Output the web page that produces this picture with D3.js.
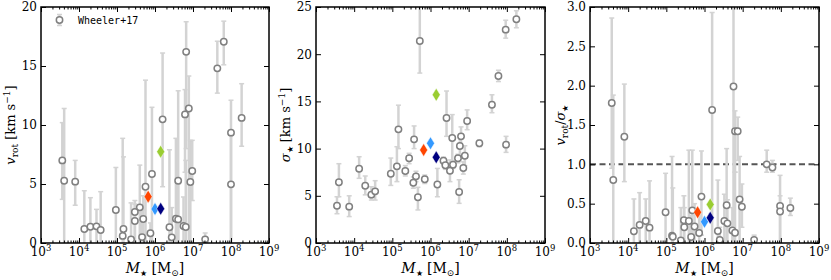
<!DOCTYPE html>
<html>
<head>
<meta charset="utf-8">
<script src="https://cdn.jsdelivr.net/npm/d3@7"></script>
<style>
  body { margin: 0; background: #fff; }
  text { font-family: "DejaVu Serif", serif; }
</style>
</head>
<body>
<div id="chart"></div>
<script>
// --- Wheeler+17 : log10(M*/Msun), value, lower end, upper end of the error bar ---
const vrotMass = [3.56, 3.61, 3.90, 4.14, 4.30, 4.46, 4.57, 4.97, 5.15, 5.17, 5.37, 5.47, 5.47, 5.60, 5.66, 5.69, 5.75, 5.88, 5.92,
                  6.20, 6.38, 6.44, 6.55, 6.61, 6.61, 6.75, 6.81, 6.93, 6.98, 6.79, 6.82, 6.89, 7.32, 7.64, 7.81, 8.00, 8.00, 8.28];
const vrotVal  = [7.0, 5.28, 5.2, 1.19, 1.38, 1.41, 1.1, 2.8, 0.6, 1.19, 0.3, 2.63, 1.86, 3.02, 0.5, 2.03, 4.77, 0.82, 5.85,
                  10.48, 1.33, 0.48, 2.06, 2.0, 5.28, 1.44, 1.36, 5.17, 6.1, 10.9, 16.2, 11.4, 0.31, 14.8, 17.06, 9.35, 4.97, 10.6];
const vrotLo   = [3.7, 0, 3.2, 0, 0, 0, 0, 0, 0, 0, 0, 0, 0, 0, 0, 0, 0, 0, 0,
                  4.77, 0, 0, 0, 0, 0, 0, 0, 0, 3.6, 6.0, 8.0, 0, 0, 12.7, 15.1, 0, 0, 8.2];
const vrotHi   = [10.2, 11.4, 7.0, 4.43, 3.84, 2.85, 4.35, 6.4, 8.87, 7.3, 3.4, 3.6, 3.3, 6.6, 2.8, 4.0, 13.8, 1.7, 11.5,
                  16.1, 7.9, 3.0, 8.87, 5.0, 12.9, 3.9, 7.0, 8.7, 8.7, 13.0, 18.75, 14.15, 0.85, 17.1, 18.8, 12.1, 9.3, 13.5];

const sigMass = [3.55, 3.60, 3.87, 4.13, 4.29, 4.45, 4.55, 4.96, 5.12, 5.16, 5.34, 5.44, 5.57, 5.55, 5.62, 5.67, 5.72, 5.85, 6.18,
                 6.34, 6.39, 6.42, 6.51, 6.57, 6.59, 6.72, 6.75, 6.77, 6.80, 6.86, 6.90, 6.96, 7.28, 7.61, 7.78, 7.97, 7.98, 8.25];
const sigVal  = [3.95, 6.43, 3.85, 7.87, 6.07, 5.12, 5.47, 7.34, 8.12, 12.04, 7.63, 8.97, 10.98, 6.39, 7.06, 4.84, 21.4, 6.75, 6.2,
                 8.72, 8.23, 13.24, 7.66, 11.12, 8.29, 8.97, 5.4, 10.27, 11.3, 7.94, 9.25, 12.92, 10.56, 14.65, 17.69, 22.6, 10.42, 23.7];
const sigLo   = [3.1, 4.9, 2.8, 6.85, 5.1, 4.55, 4.55, 6.1, 6.5, 10.0, 7.1, 8.4, 10.0, 5.8, 6.5, 3.5, 18.0, 6.3, 4.9,
                 8.3, 7.8, 11.3, 6.5, 8.5, 7.9, 8.5, 4.2, 9.3, 10.3, 7.3, 8.2, 12.0, 10.2, 13.8, 17.1, 21.7, 9.6, 22.8];
const sigHi   = [4.9, 8.4, 5.0, 9.14, 7.1, 5.96, 6.6, 9.0, 10.2, 14.6, 8.2, 9.5, 12.4, 7.0, 7.6, 5.9, 25.5, 7.2, 7.9,
                 9.1, 8.7, 16.1, 8.8, 13.6, 8.7, 9.4, 6.7, 11.3, 12.3, 8.6, 10.3, 14.1, 10.9, 15.7, 18.3, 23.6, 11.3, 24.6];

const ratioMass = [3.57, 3.61, 3.90, 4.15, 4.30, 4.46, 4.56, 4.98, 5.15, 5.17, 5.38, 5.46, 5.47, 5.59, 5.65, 5.68, 5.74, 5.86, 5.92,
                   6.20, 6.35, 6.40, 6.52, 6.58, 6.60, 6.73, 6.80, 6.92, 6.98, 6.76, 6.80, 6.87, 7.30, 7.63, 7.78, 7.98, 7.98, 8.25];
const ratioVal  = [1.78, 0.80, 1.35, 0.15, 0.23, 0.28, 0.195, 0.39, 0.093, 0.08, 0.034, 0.29, 0.20, 0.28, 0.076, 0.415, 0.21, 0.127, 0.59,
                   1.69, 0.152, 0.04, 0.28, 0.48, 0.25, 0.16, 0.13, 0.555, 0.46, 1.99, 1.42, 1.42, 0.04, 1.0, 0.96, 0.47, 0.40, 0.445];
const ratioLo   = [0.95, 0, 0.78, 0, 0, 0, 0, 0, 0, 0, 0, 0, 0, 0, 0, 0, 0, 0, 0.1,
                   0, 0, 0, 0, 0, 0, 0, 0, 0, 0.2, 0, 0.9, 1.05, 0, 0.9, 0.9, 0, 0, 0.35];
const ratioHi   = [2.86, 1.88, 2.02, 0.56, 0.64, 0.56, 0.79, 0.886, 1.1, 0.7, 0.45, 0.6, 0.45, 1.18, 0.35, 1.18, 0.5, 0.35, 1.17,
                   2.93, 0.8, 0.2, 0.62, 1.2, 0.55, 0.45, 0.9, 1.1, 0.75, 3.1, 1.68, 1.6, 0.1, 1.18, 1.05, 0.86, 0.6, 0.57];

// --- simulated galaxies (diamonds) ---
const simColors = ["#ff4500", "#3399ff", "#000080", "#9acd32"];
const simMass   = [5.82, 6.00, 6.15, 6.15];
const simVrot   = [3.93, 2.88, 2.90, 7.74];
const simSigma  = [9.85, 10.56, 9.08, 15.7];
const simRatio  = [0.39, 0.27, 0.32, 0.49];

const vrotTicks  = [0, 5, 10, 15, 20];
const sigTicks   = [0, 5, 10, 15, 20, 25];
const ratioTicks = [0, 0.5, 1.0, 1.5, 2.0, 2.5, 3.0];
const decades = [3, 4, 5, 6, 7, 8, 9];

const width = 831, height = 280;
const yTop = 7, yBottom = 243;

const svg = d3.select("#chart").append("svg")
    .attr("width", width)
    .attr("height", height);

const panels = [
    { left: 41,  right: 269, mass: vrotMass,  val: vrotVal,  lo: vrotLo,  hi: vrotHi,  sim: simVrot,
      ymax: 20, ticks: vrotTicks, fmt: d3.format("d"), labelX: 15, label: "vrot" },
    { left: 316, right: 545, mass: sigMass,   val: sigVal,   lo: sigLo,   hi: sigHi,   sim: simSigma,
      ymax: 25, ticks: sigTicks, fmt: d3.format("d"), labelX: 290, label: "sigma" },
    { left: 590, right: 819, mass: ratioMass, val: ratioVal, lo: ratioLo, hi: ratioHi, sim: simRatio,
      ymax: 3, ticks: ratioTicks, fmt: d3.format(".1f"), labelX: 565, label: "ratio" }
];

const minors = [];
decades.slice(0, -1).forEach(k => {
    for (let m = 2; m <= 9; m++) minors.push(m * Math.pow(10, k));
});

const diamond = "M0,-6.5L4,0L0,6.5L-4,0Z";

panels.forEach((p, pi) => {
    const x = d3.scaleLog().domain([1e3, 1e9]).range([p.left, p.right]);
    const y = d3.scaleLinear().domain([0, p.ymax]).range([yBottom, yTop]);

    const g = svg.append("g");

    // clip
    const clipId = "clip" + pi;
    svg.append("clipPath").attr("id", clipId)
        .append("rect")
        .attr("x", p.left).attr("y", yTop)
        .attr("width", p.right - p.left).attr("height", yBottom - yTop);

    const plot = g.append("g").attr("clip-path", `url(#${clipId})`);

    // v/sigma = 1 line
    if (p.label === "ratio") {
        plot.append("line")
            .attr("x1", p.left).attr("x2", p.right)
            .attr("y1", y(1)).attr("y2", y(1))
            .attr("stroke", "#555")
            .attr("stroke-width", 2)
            .attr("stroke-dasharray", "6,3.5");
    }

    const idx = d3.range(p.mass.length);

    // error bars
    const bars = plot.append("g")
        .attr("stroke", "#d3d3d3");
    bars.selectAll("line.bar")
        .data(idx).enter().append("line")
        .attr("class", "bar")
        .attr("stroke-width", 2.5)
        .attr("x1", i => x(Math.pow(10, p.mass[i])))
        .attr("x2", i => x(Math.pow(10, p.mass[i])))
        .attr("y1", i => y(p.lo[i]))
        .attr("y2", i => y(p.hi[i]));
    bars.selectAll("line.caphi")
        .data(idx).enter().append("line")
        .attr("class", "caphi")
        .attr("stroke-width", 1.5)
        .attr("x1", i => x(Math.pow(10, p.mass[i])) - 2.5)
        .attr("x2", i => x(Math.pow(10, p.mass[i])) + 2.5)
        .attr("y1", i => y(p.hi[i]))
        .attr("y2", i => y(p.hi[i]));
    bars.selectAll("line.caplo")
        .data(idx.filter(i => p.lo[i] > 0)).enter().append("line")
        .attr("class", "caplo")
        .attr("stroke-width", 1.5)
        .attr("x1", i => x(Math.pow(10, p.mass[i])) - 2.5)
        .attr("x2", i => x(Math.pow(10, p.mass[i])) + 2.5)
        .attr("y1", i => y(p.lo[i]))
        .attr("y2", i => y(p.lo[i]));

    // open circles
    plot.selectAll("circle")
        .data(idx).enter().append("circle")
        .attr("cx", i => x(Math.pow(10, p.mass[i])))
        .attr("cy", i => y(p.val[i]))
        .attr("r", 3.2)
        .attr("fill", "#fff")
        .attr("stroke", "#808080")
        .attr("stroke-width", 1.5);

    // diamonds
    plot.selectAll("path.sim")
        .data(d3.range(simMass.length)).enter().append("path")
        .attr("class", "sim")
        .attr("d", diamond)
        .attr("transform", i => `translate(${x(Math.pow(10, simMass[i]))},${y(p.sim[i])})`)
        .attr("fill", i => simColors[i])
        .attr("stroke", "#fff")
        .attr("stroke-width", 0.5);

    // axes (ticks inward on all sides)
    const noDomain = a => a.select(".domain").remove();
    g.append("g").attr("transform", `translate(0,${yBottom})`)
        .call(d3.axisBottom(x).tickValues(decades.map(k => Math.pow(10, k))).tickSize(-5).tickFormat(""))
        .call(noDomain);
    g.append("g").attr("transform", `translate(0,${yBottom})`)
        .call(d3.axisBottom(x).tickValues(minors).tickSize(-2.5).tickFormat(""))
        .call(noDomain);
    g.append("g").attr("transform", `translate(0,${yTop})`)
        .call(d3.axisTop(x).tickValues(decades.map(k => Math.pow(10, k))).tickSize(-5).tickFormat(""))
        .call(noDomain);
    g.append("g").attr("transform", `translate(0,${yTop})`)
        .call(d3.axisTop(x).tickValues(minors).tickSize(-2.5).tickFormat(""))
        .call(noDomain);
    g.append("g").attr("transform", `translate(${p.left},0)`)
        .call(d3.axisLeft(y).tickValues(p.ticks).tickSize(-5).tickPadding(4).tickFormat(p.fmt))
        .call(noDomain)
        .call(a => a.selectAll("text")
            .style("font-family", "DejaVu Serif")
            .style("font-size", "12px")
            .attr("fill", "#000"));
    g.append("g").attr("transform", `translate(${p.right},0)`)
        .call(d3.axisRight(y).tickValues(p.ticks).tickSize(-5).tickFormat(""))
        .call(noDomain);

    g.append("rect")
        .attr("x", p.left).attr("y", yTop)
        .attr("width", p.right - p.left).attr("height", yBottom - yTop)
        .attr("fill", "none")
        .attr("stroke", "#000")
        .attr("stroke-width", 1.5);

    // x tick labels 10^k
    decades.forEach(k => {
        const t = g.append("text")
            .attr("x", x(Math.pow(10, k)))
            .attr("y", 256)
            .attr("text-anchor", "middle")
            .style("font-size", "12px");
        t.append("tspan").text("10");
        t.append("tspan").attr("dy", -5).style("font-size", "8.5px").text(k);
    });

    // x label
    const xl = g.append("text")
        .attr("x", (p.left + p.right) / 2)
        .attr("y", 273)
        .attr("text-anchor", "middle")
        .style("font-size", "14px");
    xl.append("tspan").style("font-style", "italic").text("M");
    xl.append("tspan").attr("dy", 3).style("font-size", "8px").text("★");
    xl.append("tspan").attr("dy", -3).text(" [M");
    xl.append("tspan").attr("dy", 3).style("font-size", "9px").text("⊙");
    xl.append("tspan").attr("dy", -3).text("]");

    // y label
    const yl = g.append("text")
        .attr("transform", `translate(${p.labelX},${(yTop + yBottom) / 2}) rotate(-90)`)
        .attr("text-anchor", "middle")
        .style("font-size", "13px");
    if (p.label === "vrot") {
        yl.append("tspan").style("font-style", "italic").text("v");
        yl.append("tspan").attr("dy", 3).style("font-size", "9px").text("rot");
        yl.append("tspan").attr("dy", -3).text(" [km s");
        yl.append("tspan").attr("dy", -5).style("font-size", "9px").text("−1");
        yl.append("tspan").attr("dy", 5).text("]");
    } else if (p.label === "sigma") {
        yl.append("tspan").style("font-style", "italic").text("σ");
        yl.append("tspan").attr("dy", 3).style("font-size", "8px").text("★");
        yl.append("tspan").attr("dy", -3).text(" [km s");
        yl.append("tspan").attr("dy", -5).style("font-size", "9px").text("−1");
        yl.append("tspan").attr("dy", 5).text("]");
    } else {
        yl.append("tspan").style("font-style", "italic").text("v");
        yl.append("tspan").attr("dy", 3).style("font-size", "9px").text("rot");
        yl.append("tspan").attr("dy", -3).text("/");
        yl.append("tspan").style("font-style", "italic").text("σ");
        yl.append("tspan").attr("dy", 3).style("font-size", "8px").text("★");
    }
});

// legend
const leg = svg.append("g");
leg.append("line").attr("x1", 59.5).attr("x2", 59.5).attr("y1", 14.5).attr("y2", 25.5)
    .attr("stroke", "#d3d3d3").attr("stroke-width", 2.5);
[14.5, 25.5].forEach(yy => leg.append("line")
    .attr("x1", 57).attr("x2", 62).attr("y1", yy).attr("y2", yy)
    .attr("stroke", "#d3d3d3").attr("stroke-width", 1.5));
leg.append("circle").attr("cx", 59.5).attr("cy", 20).attr("r", 3.2)
    .attr("fill", "#fff").attr("stroke", "#808080").attr("stroke-width", 1.5);
leg.append("text").attr("x", 78).attr("y", 23.5)
    .style("font-family", "DejaVu Sans Mono")
    .style("font-size", "10px")
    .text("Wheeler+17");
</script>
</body>
</html>
